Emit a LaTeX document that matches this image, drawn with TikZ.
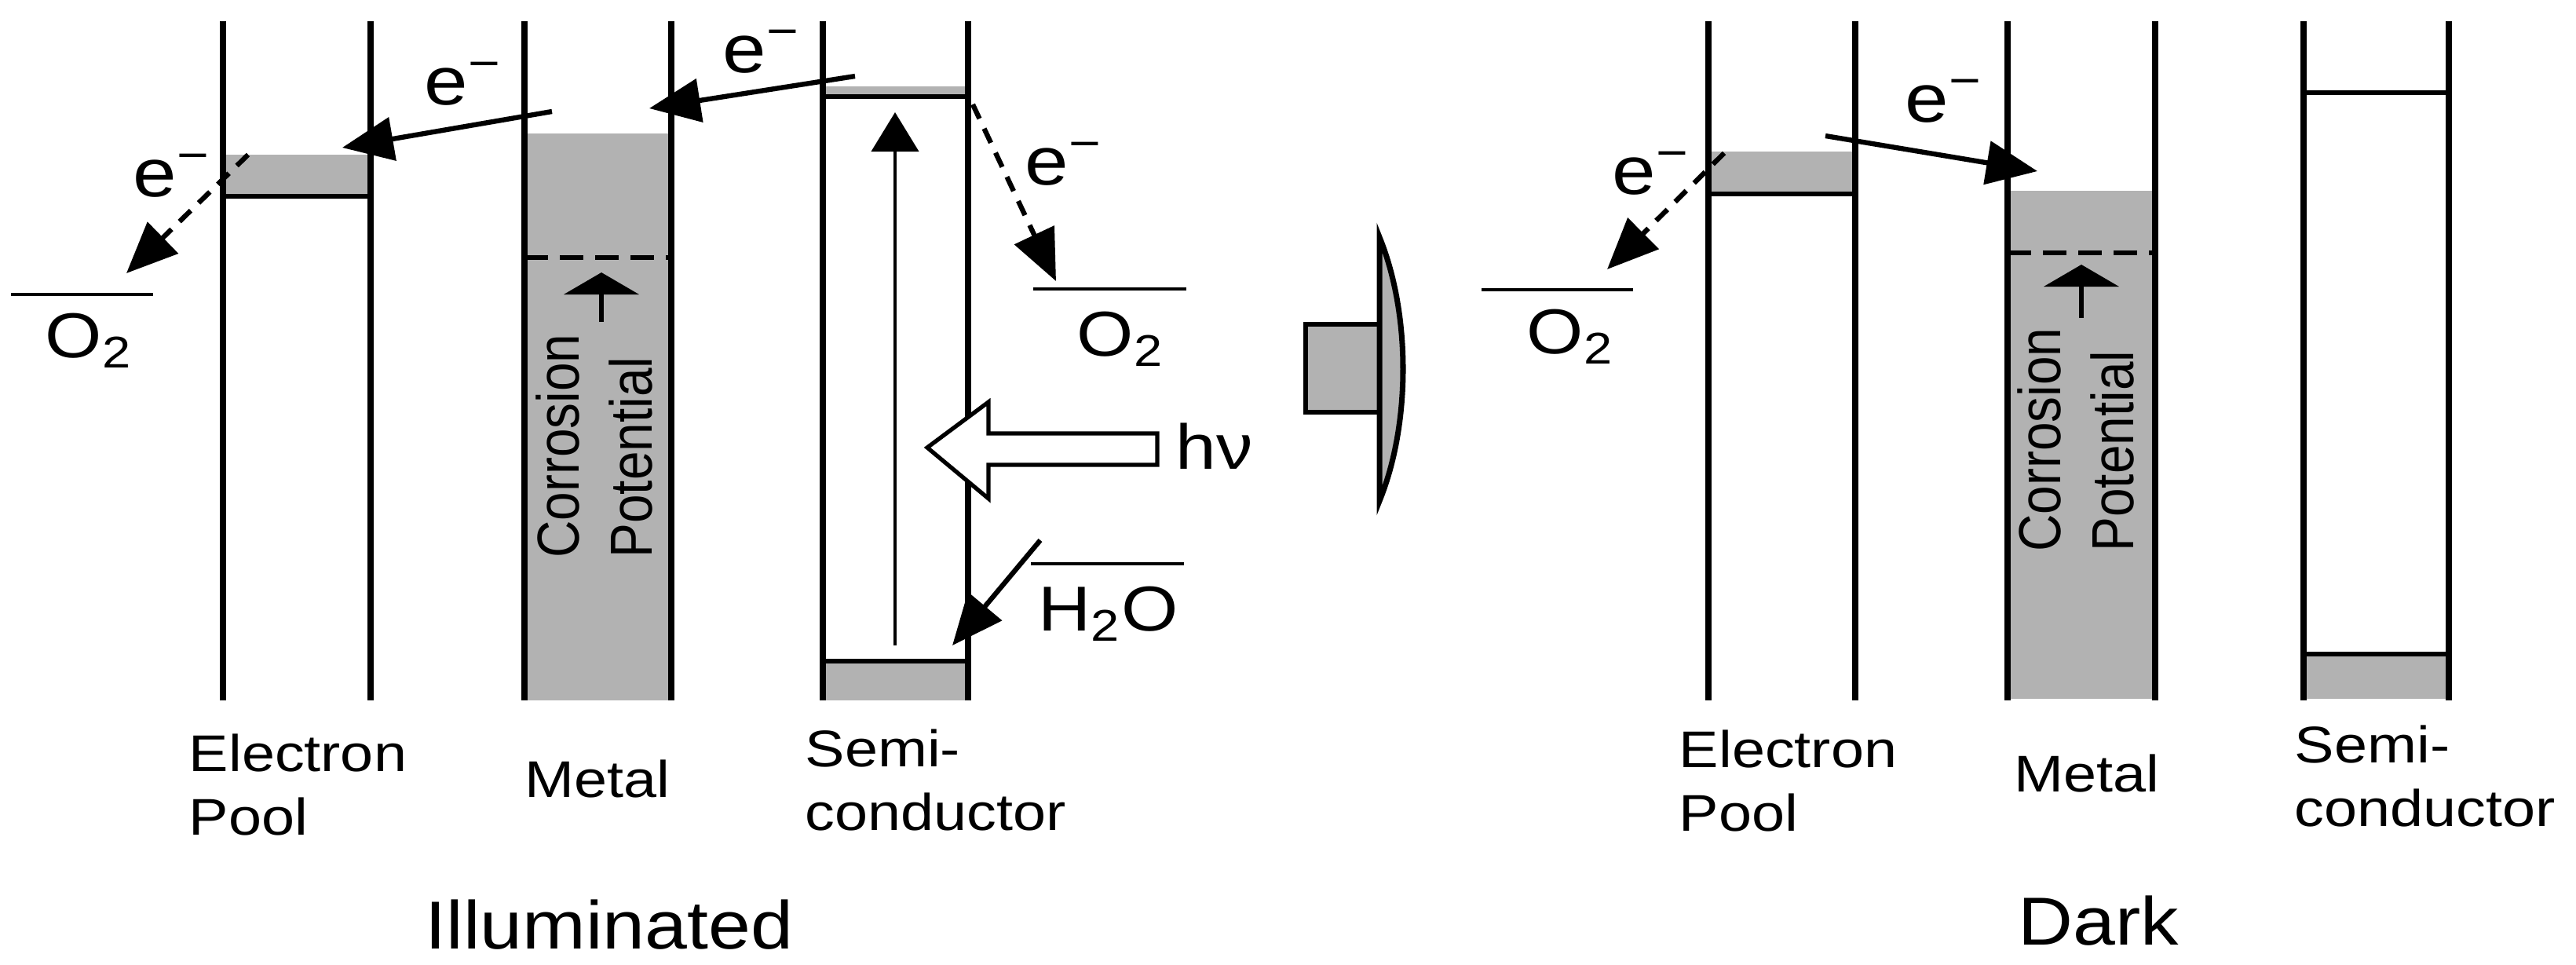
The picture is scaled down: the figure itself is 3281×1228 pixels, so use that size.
\documentclass[tikz,border=0pt]{standalone}
\usepackage{fontspec}
\setmainfont{Liberation Sans}
\usetikzlibrary{arrows.meta}

\begin{document}
\begin{tikzpicture}[
        x = 0.1mm, y = -0.1mm,
        >= {Triangle[length = 6.5mm, width = 5.5mm]},
        wall/.style = {line width = 2.3pt},
        bandline/.style = {line width = 1.5pt},
        stipple/.style = {fill = black!30},
        flow/.style = {->, line width = 1.8pt},
        hop/.style = {->, line width = 1.8pt, dash pattern = on 2mm off 1.4mm},
        redox/.style = {line width = 1.2pt},
        rise/.style = {-{Triangle[length = 2.8mm, width = 9.5mm]}, line width = 1.7pt},
        colname/.style = {inner sep = 0pt, xscale = 1.15, align = left,
            font = \fontsize{18.7pt}{22.8pt}\selectfont},
        elec/.style = {inner sep = 0pt, xscale = 1.15, font = \fontsize{24.7pt}{28pt}\selectfont},
        chem/.style = {inner sep = 0pt, xscale = 1.15, font = \fontsize{23pt}{28pt}\selectfont},
        heading/.style = {inner sep = 0pt, xscale = 1.12, font = \fontsize{24.6pt}{28pt}\selectfont}
    ]

    \useasboundingbox (0,0) rectangle (3281,1228);

    % filled levels
    \fill[stipple] (284,197) rectangle (472,250);
    \fill[stipple] (668,170) rectangle (855,892);
    \fill[stipple] (1048,110) rectangle (1233,123);
    \fill[stipple] (1048,842) rectangle (1233,892);
    \fill[stipple] (2176,193) rectangle (2363,247);
    \fill[stipple] (2557,243) rectangle (2745,890);
    \fill[stipple] (2934,833) rectangle (3119,890);

    \foreach \x in {284, 472, 668, 855, 1048, 1233, 2176, 2363, 2557, 2745, 2934, 3119}
        \draw[wall] (\x,27) -- (\x,892);

    \draw[bandline] (284,250) -- (472,250);
    \draw[bandline] (1048,123) -- (1233,123);
    \draw[bandline] (1048,842) -- (1233,842);
    \draw[bandline] (2176,247) -- (2363,247);
    \draw[bandline] (2934,118) -- (3119,118);
    \draw[bandline] (2934,833) -- (3119,833);
    \draw[bandline, dash pattern = on 3mm off 1.5mm] (668,328) -- (855,328);
    \draw[bandline, dash pattern = on 3mm off 1.5mm] (2557,322) -- (2745,322);

    % redox levels
    \draw[redox] (14,375) -- (195,375);
    \draw[redox] (1316,368) -- (1511,368);
    \draw[redox] (1313,718) -- (1508,718);
    \draw[redox] (1887,369) -- (2080,369);

    \coordinate (m1) at (766,410);   \coordinate (m1t) at (766,347);
    \coordinate (m2) at (2651,405);  \coordinate (m2t) at (2651,337);
    \coordinate (sc0) at (1140,822); \coordinate (sc1) at (1140,143);
    \coordinate (a0) at (1089,97);   \coordinate (a1) at (827,138);
    \coordinate (b0) at (703,142);   \coordinate (b1) at (436,188);
    \coordinate (c0) at (316,197);   \coordinate (c1) at (161,348);
    \coordinate (d0) at (1239,133);  \coordinate (d1) at (1345,358);
    \coordinate (w0) at (1325,688);  \coordinate (w1) at (1213,822);
    \coordinate (f0) at (2196,195);  \coordinate (f1) at (2047,343);
    \coordinate (g0) at (2325,173);  \coordinate (g1) at (2595,218);

    \draw[rise] (m1) -- (m1t);
    \draw[rise] (m2) -- (m2t);
    \draw[->, >={Triangle[length = 5mm, width = 6mm]}, line width = 1.2pt] (sc0) -- (sc1);
    \draw[flow] (a0) -- (a1);
    \draw[flow] (b0) -- (b1);
    \draw[hop] (c0) -- (c1);
    \draw[hop] (d0) -- (d1);
    \draw[flow] (w0) -- (w1);
    \draw[hop] (f0) -- (f1);
    \draw[flow] (g0) -- (g1);

    % light
    \draw[line width = 1.5pt, fill = white] (1181,570) -- (1259,512) -- (1259,552) -- (1474,552)
        -- (1474,592) -- (1259,592) -- (1259,635) -- cycle;

    % illuminated -> dark
    \draw[line width = 1.8pt, stipple] (1757,413) -- (1663,413) -- (1663,525) -- (1757,525);
    \draw[line width = 2pt, stipple] (1757,302) .. controls (1797,400) and (1797,540) .. (1757,638) -- cycle;

    \node[colname, rotate = 90] (cp1) at (757,568) {Corrosion\\Potential};
    \node[colname, rotate = 90] (cp2) at (2644,560) {Corrosion\\Potential};

    \node[elec, anchor = base west] (e1) at (540,133) {e\textsuperscript{−}};
    \node[elec, anchor = base west] (e2) at (920,92) {e\textsuperscript{−}};
    \node[elec, anchor = base west] (e3) at (1305,235) {e\textsuperscript{−}};
    \node[elec, anchor = base west] (e4) at (169,250) {e\textsuperscript{−}};
    \node[elec, anchor = base west] (e5) at (2053,247) {e\textsuperscript{−}};
    \node[elec, anchor = base west] (e6) at (2426,155) {e\textsuperscript{−}};

    \node[chem, anchor = base west] (o1) at (57,455) {O\textsubscript{2}};
    \node[chem, anchor = base west] (o2) at (1371,453) {O\textsubscript{2}};
    \node[chem, anchor = base west] (o3) at (1944,450) {O\textsubscript{2}};
    \node[chem, anchor = base west] (h2o) at (1322,803) {H\textsubscript{2}O};
    \node[chem, anchor = base west] (hv) at (1497,597) {hν};

    \node[colname, anchor = base west] (ep1) at (240,1063) {Electron\\Pool};
    \node[colname, anchor = base west] (mt1) at (668,1015) {Metal};
    \node[colname, anchor = base west] (sc1) at (1025,1057) {Semi-\\conductor};
    \node[colname, anchor = base west] (ep2) at (2138,1058) {Electron\\Pool};
    \node[colname, anchor = base west] (mt2) at (2565,1008) {Metal};
    \node[colname, anchor = base west] (sc2) at (2922,1052) {Semi-\\conductor};

    \node[heading, anchor = base west] (ill) at (541,1208) {Illuminated};
    \node[heading, anchor = base west] (dark) at (2570,1203) {Dark};
\end{tikzpicture}
\end{document}
